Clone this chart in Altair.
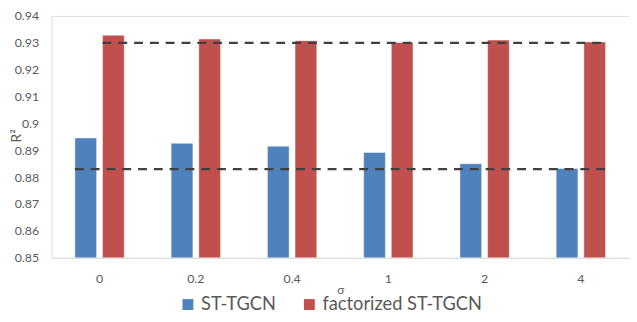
import altair as alt
import pandas as pd

sigma = ["0", "0.2", "0.4", "1", "2", "4"]
st_tgcn = [0.8946, 0.8926, 0.8915, 0.8892, 0.8850, 0.8832]
factorized = [0.9328, 0.9314, 0.9308, 0.9301, 0.9310, 0.9303]
series = ["ST-TGCN", "factorized ST-TGCN"]
colors = ["#4F81BD", "#C0504D"]
y_ticks = [0.85, 0.86, 0.87, 0.88, 0.89, 0.90, 0.91, 0.92, 0.93, 0.94]
ref_upper = [0.930]
ref_lower = [0.883]

rows = []
for i, s in enumerate(sigma):
    rows.append({"sigma": s, "series": series[0], "value": st_tgcn[i]})
    rows.append({"sigma": s, "series": series[1], "value": factorized[i]})
df = pd.DataFrame(rows)

upper_df = pd.DataFrame({"y": ref_upper, "start": [sigma[0]], "end": [sigma[-1]]})
lower_df = pd.DataFrame({"y": ref_lower, "start": [sigma[0]], "end": [sigma[-1]]})

xscale = alt.Scale(domain=sigma, paddingInner=0.487, paddingOuter=0.2435)
yscale = alt.Scale(domain=[0.85, 0.94], zero=False, nice=False)

x_axis = alt.Axis(labelAngle=0, ticks=False, domainColor="#d9d9d9", domainWidth=1,
                  labelPadding=15, labelFontSize=12.5, labelColor="#595959",
                  titleFontSize=12, titleFontWeight="normal", titleColor="#595959",
                  titlePadding=0)
y_axis = alt.Axis(values=y_ticks, format=".2~f", grid=False, domain=False, ticks=False,
                  labelOverlap=False, labelFlush=False,
                  labelPadding=13, labelFontSize=12.5, labelColor="#595959",
                  titleFontSize=14, titleFontWeight="normal", titleColor="#595959",
                  titleX=-42, titleY=121, titleBaseline="top")

bars = alt.Chart(df).mark_bar(stroke="white", strokeOpacity=0.45, strokeWidth=1).encode(
    x=alt.X("sigma:N", scale=xscale, sort=sigma, title="σ", axis=x_axis),
    xOffset=alt.XOffset("series:N", sort=series,
                        scale=alt.Scale(domain=series, paddingInner=0.214, paddingOuter=0)),
    y=alt.Y("value:Q", scale=yscale, title="R²", axis=y_axis),
    y2=alt.datum(0.85),
    color=alt.Color("series:N", sort=series, scale=alt.Scale(domain=series, range=colors),
                    legend=alt.Legend(orient="none", legendX=129, legendY=283, direction="horizontal",
                                      title=None, symbolType="square", symbolSize=121,
                                      symbolStrokeWidth=0, symbolOpacity=1,
                                      labelFontSize=18.5, labelColor="#595959", labelLimit=400,
                                      columnPadding=24, labelOffset=4)),
)

upper = alt.Chart(upper_df).mark_rule(strokeDash=[9, 7], strokeWidth=2.3, color="#404040").encode(
    x=alt.X("start:N", bandPosition=0.56, sort=sigma, scale=xscale, title="σ", axis=x_axis),
    x2=alt.X2("end", bandPosition=1),
    y=alt.Y("y:Q", scale=yscale, title="R²", axis=y_axis),
)

lower = alt.Chart(lower_df).mark_rule(strokeDash=[9, 7], strokeWidth=2.3, color="#404040").encode(
    x=alt.X("start:N", bandPosition=0, sort=sigma, scale=xscale, title="σ", axis=x_axis),
    x2=alt.X2("end", bandPosition=1),
    y=alt.Y("y:Q", scale=yscale, title="R²", axis=y_axis),
)

chart = alt.layer(bars, upper, lower).properties(
    width=585, height=245,
    autosize=alt.AutoSizeParams(type="none"),
    padding={"left": 44, "top": 6, "right": 0, "bottom": 62},
    background="white",
).configure_view(stroke=None).configure(font="Lato")

chart.save("out.html", embed_options={"renderer": "svg", "actions": False})
